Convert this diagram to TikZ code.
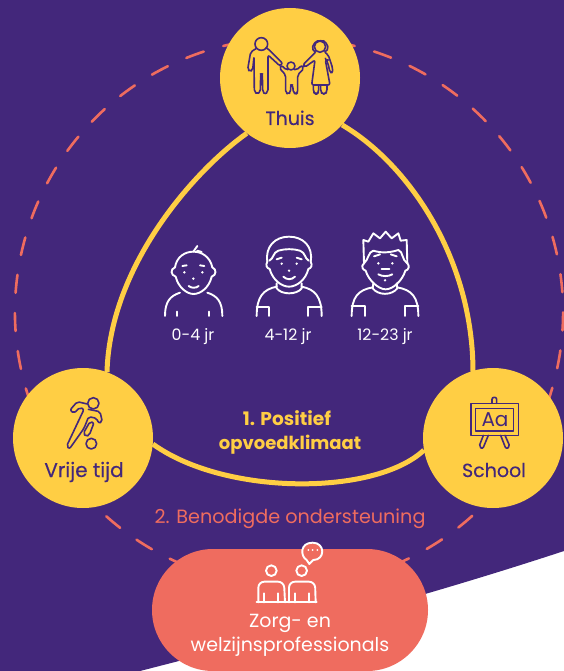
\documentclass[tikz,border=0pt]{standalone}
\usepackage{fontspec}
\setmainfont{Poppins}
\newfontfamily\medfont[FakeBold=0.25]{Poppins}
\definecolor{purp}{HTML}{43277B}
\definecolor{yel}{HTML}{FFCE44}
\definecolor{cor}{HTML}{EF6C5F}
\pgfdeclarelayer{back}
\pgfsetlayers{back,main}
\tikzset{
  hub/.style={circle,fill=yel,draw=none,minimum size=140pt,inner sep=0pt},
  pill/.style={rectangle,fill=cor,draw=none,rounded corners=61pt,minimum width=276pt,minimum height=122pt,inner sep=0pt},
  ytxt/.style={anchor=base,inner sep=0pt,text=purp,font=\medfont\fontsize{19}{22}\selectfont},
  ktxt/.style={anchor=base,inner sep=0pt,text=white,font=\fontsize{15.8}{18}\selectfont},
  wtxt/.style={anchor=base,inner sep=0pt,text=white,font=\fontsize{19}{22}\selectfont},
  gold/.style={anchor=base,inner sep=0pt,text=yel,font=\bfseries\fontsize{18}{22}\selectfont},
  cortxt/.style={anchor=base,inner sep=0pt,text=cor,font=\fontsize{19.2}{22}\selectfont},
  tri/.style={draw=yel,line width=5pt},
  ring/.style={draw=cor,line width=2.6pt,line cap=round,dash pattern=on 18pt off 20.25pt,dash phase=9pt},
  pico/.style={draw=purp,line width=1.6pt,rounded corners=2pt,line cap=round,line join=round},
  wico/.style={draw=white,line width=1.9pt,line cap=round,line join=round},
  zoomed/.style 2 args={shift={(#1pt,-#2pt)},x=.33333pt,y=-.33333pt},
}
\begin{document}
\begin{tikzpicture}[x=1pt,y=-1pt]
\useasboundingbox (0,0) rectangle (564,671);
% hubs
\node[hub] (thuis) at (290,78) {};
\node[hub] (vrij) at (83,438) {};
\node[hub] (school) at (493,438) {};
\node[pill] (zorg) at (290,610) {};
\begin{pgfonlayer}{back}
\fill[white] (0,0) rectangle (564,671);
\fill[purp] (0,0) -- (564,0) -- (564,551) .. controls (430,595) and (300,630) .. (140,671) -- (0,671) -- cycle;
\draw[ring] (289,312) ++(-110:274) arc[start angle=-110,end angle=250,radius=274];
\draw[tri] (thuis.232) .. controls (195,170) and (110,265) .. (107,372);
\draw[tri] (thuis.318) .. controls (410,165) and (473,260) .. (473,372);
\draw[tri] (vrij.-5) .. controls (225,496) and (375,496) .. (school.190);
\end{pgfonlayer}
% labels
\node[ytxt] (t1) at (290,125) {Thuis};
\node[ytxt,font=\medfont\fontsize{20}{22}\selectfont] (t2) at (84,477) {Vrije tijd};
\node[ytxt] (t3) at (494,477) {School};
\node[ktxt] (k1) at (193,340) {0-4 jr};
\node[ktxt] (k2) at (288,340) {4-12 jr};
\node[ktxt] (k3) at (385,340) {12-23 jr};
\node[gold,font=\bfseries\fontsize{18.6}{22}\selectfont] (g1) at (287,425) {1. Positief};
\node[gold] (g2) at (290,449) {opvoedklimaat};
\node[cortxt] (c1) at (290,523) {2. Benodigde ondersteuning};
\node[wtxt] (z1) at (290,627) {Zorg- en};
\node[wtxt] (z2) at (290,651) {welzijnsprofessionals};
% family icon
\begin{scope}[zoomed={200}{0}]
\draw[pico] (184,132) circle (19);
\draw[pico] (168,146) -- (152,156) -- (143,208) -- (150,215) -- (158,210) -- (162,170) -- (163,275) -- (172,283) -- (181,275) -- (182,222) -- (187,222) -- (188,275) -- (195,283) -- (204,275) -- (204,165) -- (240,198) -- (248,190) -- (205,147) -- (198,143);
\draw[pico] (273,198) circle (12);
\draw[pico] (262,209) -- (258,210) -- (245,196) -- (238,204) -- (257,225) -- (257,278) -- (265,283) -- (272,276) -- (272,255) -- (278,255) -- (280,278) -- (288,283) -- (293,278) -- (293,225) -- (312,205) -- (305,196) -- (290,210) -- (285,209);
\draw[pico] (360,140) circle (17);
\draw[pico,rounded corners=4pt] (343,155) -- (335,152) -- (342,126) -- (362,120) -- (380,126) -- (386,152) -- (376,155);
\draw[pico] (345,158) -- (308,195) -- (314,202) -- (345,180) -- (335,255) -- (390,255) -- (376,180) -- (385,180);
\draw[pico] (376,158) -- (385,165) -- (398,205) -- (398,218) -- (390,218) -- (384,190) -- (376,175);
\draw[pico] (340,257) -- (340,275) -- (345,282) -- (352,282) -- (356,275) -- (356,257);
\draw[pico] (362,257) -- (362,275) -- (367,282) -- (376,282) -- (381,275) -- (381,257);
\end{scope}
% baby
\begin{scope}[zoomed={150}{230}]
\draw[wico] (75,112) .. controls (80,80) and (105,65) .. (130,65) .. controls (155,65) and (180,80) .. (187,112);
\draw[wico] (75,112) .. controls (60,118) and (62,135) .. (77,140) .. controls (85,172) and (110,192) .. (131,192) .. controls (152,192) and (178,172) .. (185,140) .. controls (200,135) and (200,118) .. (187,112);
\draw[wico] (130,65) -- (142,48);
\draw[wico] (142,62) -- (155,66);
\draw[wico] (90,188) .. controls (60,198) and (45,215) .. (45,258);
\draw[wico] (172,188) .. controls (202,198) and (217,215) .. (217,258);
\draw[wico] (80,245) -- (80,258);
\draw[wico] (178,245) -- (178,258);
\draw[wico] (97,108) -- (110,106);
\draw[wico] (150,106) -- (163,108);
\fill[white] (103,127) circle (4);
\fill[white] (157,127) circle (4);
\fill[white] (130,146) circle (4);
\draw[wico] (116,168) .. controls (124,175) and (138,175) .. (146,168);
\end{scope}
% boy
\begin{scope}[zoomed={150}{230}]
\draw[wico] (352,95) .. controls (345,50) and (375,20) .. (417,20) .. controls (460,20) and (490,50) .. (482,95);
\draw[wico] (358,92) .. controls (372,85) and (368,68) .. (385,62) .. controls (405,56) and (430,56) .. (450,62) .. controls (467,68) and (463,85) .. (476,92);
\draw[wico] (352,95) .. controls (346,105) and (350,115) .. (359,117) .. controls (368,150) and (395,170) .. (417,170) .. controls (440,170) and (467,150) .. (475,117) .. controls (484,115) and (488,105) .. (482,95);
\draw[wico] (380,160) -- (380,175) .. controls (395,195) and (440,195) .. (455,175) -- (455,160);
\draw[wico] (380,170) .. controls (340,178) and (320,200) .. (320,258);
\draw[wico] (455,170) .. controls (495,178) and (515,200) .. (515,258);
\draw[wico] (320,232) -- (358,232) -- (358,258);
\draw[wico] (515,232) -- (475,232) -- (475,258);
\draw[wico] (380,88) -- (395,83);
\draw[wico] (440,83) -- (455,88);
\fill[white] (395,101) circle (4);
\fill[white] (440,101) circle (4);
\fill[white] (417,122) circle (4);
\draw[wico] (400,140) .. controls (410,150) and (425,150) .. (435,140);
\end{scope}
% teen
\begin{scope}[zoomed={150}{230}]
\draw[wico] (642,100) -- (640,30) -- (655,35) -- (670,10) -- (690,25) -- (707,5) -- (725,25) -- (745,10) -- (752,32) -- (770,30) -- (772,100);
\draw[wico] (642,100) .. controls (655,90) and (655,65) .. (670,62) .. controls (695,70) and (720,68) .. (745,60) .. controls (760,65) and (755,90) .. (772,100);
\draw[wico] (642,100) .. controls (632,108) and (638,120) .. (647,122) .. controls (655,150) and (685,178) .. (707,178) .. controls (730,178) and (758,150) .. (766,122) .. controls (776,120) and (780,108) .. (772,100);
\draw[wico] (670,160) -- (668,175) .. controls (685,197) and (725,197) .. (742,175) -- (740,160);
\draw[wico] (668,172) .. controls (625,180) and (605,200) .. (605,258);
\draw[wico] (742,172) .. controls (785,180) and (805,200) .. (805,258);
\draw[wico] (605,228) -- (645,228) -- (645,258);
\draw[wico] (805,228) -- (765,228) -- (765,258);
\draw[wico] (672,79) -- (690,73);
\draw[wico] (722,73) -- (740,79);
\fill[white] (685,100) circle (4);
\fill[white] (727,100) circle (4);
\draw[wico] (695,118) -- (718,118);
\draw[wico] (685,133) .. controls (697,140) and (715,140) .. (727,133);
\fill[white] (705,151) circle (4);
\end{scope}
% football
\begin{scope}[zoomed={0}{370}]
\draw[pico] (280,100) circle (17);
\draw[pico] (274,221) circle (16);
\draw[pico] (262,102) -- (232,95) -- (210,120) -- (222,130) -- (240,112) -- (252,118) -- (200,228) -- (208,237) -- (252,175) -- (266,140) -- (290,145) -- (296,160) -- (307,155) -- (300,125) -- (265,118);
\draw[pico] (270,155) -- (282,158) -- (268,195) -- (258,200) -- (250,190) -- cycle;
\end{scope}
% easel
\begin{scope}[zoomed={410}{370}]
\draw[pico,rounded corners=0pt] (183,100) rectangle (325,196);
\draw[pico,rounded corners=0pt] (196,115) rectangle (310,183);
\draw[pico] (246,100) -- (246,82) -- (260,82) -- (260,100);
\draw[pico] (220,196) -- (207,230) -- (218,237) -- (235,196);
\draw[pico] (272,196) -- (288,237) -- (300,230) -- (285,196);
\node[inner sep=0pt,text=purp,font=\fontsize{20}{22}\selectfont] (aa) at (255,148) {Aa};
\end{scope}
% people
\begin{scope}[zoomed={140}{530}]
\draw[wico] (394,122) circle (16);
\draw[wico] (485,122) circle (16);
\draw[wico] (350,217) -- (530,217);
\draw[wico,rounded corners=6pt] (355,217) -- (355,155) -- (432,155) -- (435,217);
\draw[wico,rounded corners=6pt] (447,217) -- (447,155) -- (525,155) -- (527,217);
\draw[wico] (372,190) -- (372,217);
\draw[wico] (415,190) -- (415,217);
\draw[wico] (465,190) -- (465,217);
\draw[wico] (508,190) -- (508,217);
\draw[wico,fill=cor] (500,90) .. controls (480,78) and (480,38) .. (518,38) .. controls (556,38) and (556,90) .. (520,90) -- (508,102) -- cycle;
\fill[white] (505,60) circle (3);
\fill[white] (518,60) circle (3);
\fill[white] (532,60) circle (3);
\end{scope}
\end{tikzpicture}
\end{document}
